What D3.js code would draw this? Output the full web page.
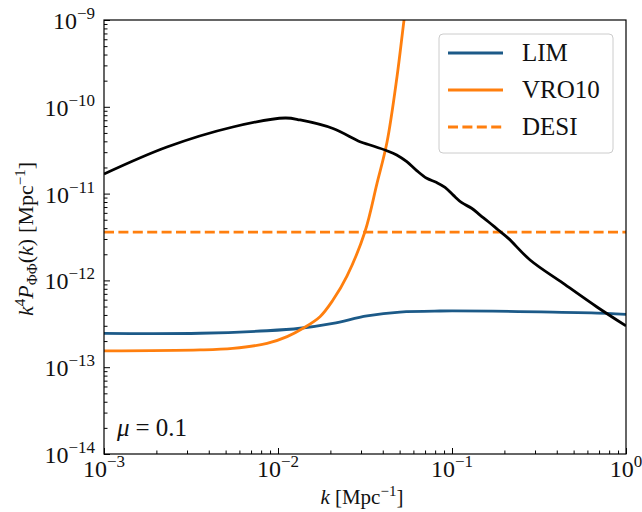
<!DOCTYPE html>
<html>
<head>
<meta charset="utf-8">
<script src="https://cdn.jsdelivr.net/npm/d3@7"></script>
<style>
  html, body { margin: 0; padding: 0; background: #fff; }
  svg { display: block; }
  text { font-family: "Liberation Serif", "DejaVu Serif", serif; fill: #111; }
</style>
</head>
<body>
<svg id="chart" width="642" height="512"></svg>
<script>
// ---- data ----
const signalK = [0.001, 0.0023, 0.0055, 0.011, 0.0134, 0.0207, 0.0296, 0.0338, 0.0422, 0.0481, 0.0550, 0.0627, 0.0716, 0.0817, 0.0912, 0.1016, 0.1138, 0.1297, 0.1449, 0.1618, 0.1845, 0.2109, 0.281, 0.434, 0.681, 1.0];
const signalP = [1.68e-11, 3.44e-11, 5.85e-11, 7.43e-11, 7.05e-11, 5.62e-11, 3.96e-11, 3.63e-11, 3.12e-11, 2.79e-11, 2.33e-11, 1.84e-11, 1.50e-11, 1.34e-11, 1.18e-11, 9.6e-12, 7.85e-12, 6.78e-12, 5.66e-12, 4.74e-12, 3.81e-12, 3.05e-12, 1.72e-12, 9.3e-13, 4.94e-13, 2.99e-13];

const limK = [0.001, 0.00357, 0.00865, 0.0134, 0.0207, 0.0325, 0.0502, 0.0853, 0.380, 0.778, 1.0];
const limP = [2.45e-13, 2.46e-13, 2.63e-13, 2.81e-13, 3.2e-13, 3.89e-13, 4.32e-13, 4.44e-13, 4.32e-13, 4.18e-13, 4.07e-13];

const vroK = [0.001, 0.00357, 0.0055, 0.00865, 0.01128, 0.01393, 0.01743, 0.0207, 0.0249, 0.0316, 0.0371, 0.0423, 0.0483, 0.0530, 0.058];
const vroP = [1.54e-13, 1.58e-13, 1.65e-13, 1.88e-13, 2.25e-13, 2.81e-13, 3.82e-13, 5.94e-13, 1.12e-12, 3.64e-12, 1.32e-11, 3.9e-11, 2.22e-10, 1.0e-9, 4.0e-9];

const desiLevel = 3.6e-12;

const seriesNames = ["LIM", "VRO10", "DESI"];
const xTickValues = [1e-3, 1e-2, 1e-1, 1e0];
const xTickExps = ["−3", "−2", "−1", "0"];
const yTickValues = [1e-14, 1e-13, 1e-12, 1e-11, 1e-10, 1e-9];
const yTickExps = ["−14", "−13", "−12", "−11", "−10", "−9"];

// ---- layout ----
const svg = d3.select("#chart");
const L = 104, R = 626, T = 20, B = 454;
const x = d3.scaleLog().domain([1e-3, 1]).range([L, R]);
const y = d3.scaleLog().domain([1e-14, 1e-9]).range([B, T]);

const blue = "#1c5a88", orange = "#ff7f0e";
const LW = 2.8;

svg.append("defs").append("clipPath").attr("id", "clip")
  .append("rect").attr("x", L).attr("y", T).attr("width", R - L).attr("height", B - T);

const plot = svg.append("g").attr("clip-path", "url(#clip)");
const line = d3.line().x(d => x(d[0])).y(d => y(d[1])).curve(d3.curveCatmullRom.alpha(0.5));

plot.append("path").datum(d3.zip(limK, limP)).attr("d", line)
  .attr("fill", "none").attr("stroke", blue).attr("stroke-width", LW);
plot.append("path").datum(d3.zip(vroK, vroP)).attr("d", line)
  .attr("fill", "none").attr("stroke", orange).attr("stroke-width", LW);
plot.append("path").datum([[1e-3, desiLevel], [1, desiLevel]]).attr("d", d3.line().x(d => x(d[0])).y(d => y(d[1])))
  .attr("fill", "none").attr("stroke", orange).attr("stroke-width", LW).attr("stroke-dasharray", "10,4.4");
plot.append("path").datum(d3.zip(signalK, signalP)).attr("d", line)
  .attr("fill", "none").attr("stroke", "#000").attr("stroke-width", LW);

// ---- axes (inward ticks) ----
function minorTicks(lo, hi) {
  const out = [];
  for (let e = lo; e < hi; e++) for (let m = 2; m <= 9; m++) out.push(m * Math.pow(10, e));
  return out;
}
const xMinor = minorTicks(-3, 0), yMinor = minorTicks(-14, -9);

const gx = svg.append("g").attr("transform", `translate(0,${B})`);
gx.call(d3.axisBottom(x).tickValues(xTickValues).tickSize(-6).tickFormat(""));
const gxm = svg.append("g").attr("transform", `translate(0,${B})`);
gxm.call(d3.axisBottom(x).tickValues(xMinor).tickSize(-3.5).tickFormat(""));
const gy = svg.append("g").attr("transform", `translate(${L},0)`);
gy.call(d3.axisLeft(y).tickValues(yTickValues).tickSize(-6).tickFormat(""));
const gym = svg.append("g").attr("transform", `translate(${L},0)`);
gym.call(d3.axisLeft(y).tickValues(yMinor).tickSize(-3.5).tickFormat(""));
[gx, gxm, gy, gym].forEach(g => {
  g.selectAll(".domain").remove();
  g.selectAll(".tick line").attr("stroke", "#000").attr("stroke-width", 1);
});

// frame
svg.append("rect").attr("x", L).attr("y", T).attr("width", R - L).attr("height", B - T)
  .attr("fill", "none").attr("stroke", "#000").attr("stroke-width", 1.2);

// tick labels
xTickValues.forEach((v, i) => {
  const t = svg.append("text").attr("x", x(v)).attr("y", 477).attr("text-anchor", "middle").attr("font-size", 24);
  t.append("tspan").text("10");
  t.append("tspan").attr("dy", -10).attr("font-size", 17).text(xTickExps[i]);
});
yTickValues.forEach((v, i) => {
  const t = svg.append("text").attr("x", 95).attr("y", y(v) + 9).attr("text-anchor", "end").attr("font-size", 24);
  t.append("tspan").text("10");
  t.append("tspan").attr("dy", -10).attr("font-size", 17).text(yTickExps[i]);
});

// axis titles
const xl = svg.append("text").attr("x", 362).attr("y", 504).attr("text-anchor", "middle").attr("font-size", 21);
xl.append("tspan").attr("font-style", "italic").text("k");
xl.append("tspan").attr("dx", 5).text("[Mpc");
xl.append("tspan").attr("dy", -8).attr("font-size", 15).text("−1");
xl.append("tspan").attr("dy", 8).text("]");

const yl = svg.append("text").attr("transform", "translate(33,239) rotate(-90)").attr("text-anchor", "middle").attr("font-size", 22);
yl.append("tspan").attr("font-style", "italic").text("k");
yl.append("tspan").attr("dy", -8).attr("font-size", 15).text("4");
yl.append("tspan").attr("dy", 8).attr("font-style", "italic").text("P");
yl.append("tspan").attr("dy", 4).attr("font-size", 15).text("ΦΦ");
yl.append("tspan").attr("dy", -4).text("(");
yl.append("tspan").attr("font-style", "italic").text("k");
yl.append("tspan").text(")");
yl.append("tspan").attr("dx", 6).text("[Mpc");
yl.append("tspan").attr("dy", -8).attr("font-size", 15).text("−1");
yl.append("tspan").attr("dy", 8).text("]");

// annotation
const mu = svg.append("text").attr("x", 117).attr("y", 436).attr("font-size", 25);
mu.append("tspan").attr("font-style", "italic").text("μ");
mu.append("tspan").attr("dx", 6).text("=");
mu.append("tspan").attr("dx", 6).text("0.1");

// legend
const lg = svg.append("g");
lg.append("rect").attr("x", 439).attr("y", 34).attr("width", 174).attr("height", 119).attr("rx", 4)
  .attr("fill", "#fff").attr("fill-opacity", 0.8).attr("stroke", "#ccc").attr("stroke-width", 1);
const legendStyles = [
  { color: blue, dash: null },
  { color: orange, dash: null },
  { color: orange, dash: "10,4.4" }
];
seriesNames.forEach((name, i) => {
  const ly = 53 + i * 37;
  const ln = lg.append("line").attr("x1", 448).attr("x2", 503).attr("y1", ly).attr("y2", ly)
    .attr("stroke", legendStyles[i].color).attr("stroke-width", LW);
  if (legendStyles[i].dash) ln.attr("stroke-dasharray", legendStyles[i].dash);
  lg.append("text").attr("x", 522).attr("y", ly + 8).attr("font-size", 25).text(name);
});
</script>
</body>
</html>
